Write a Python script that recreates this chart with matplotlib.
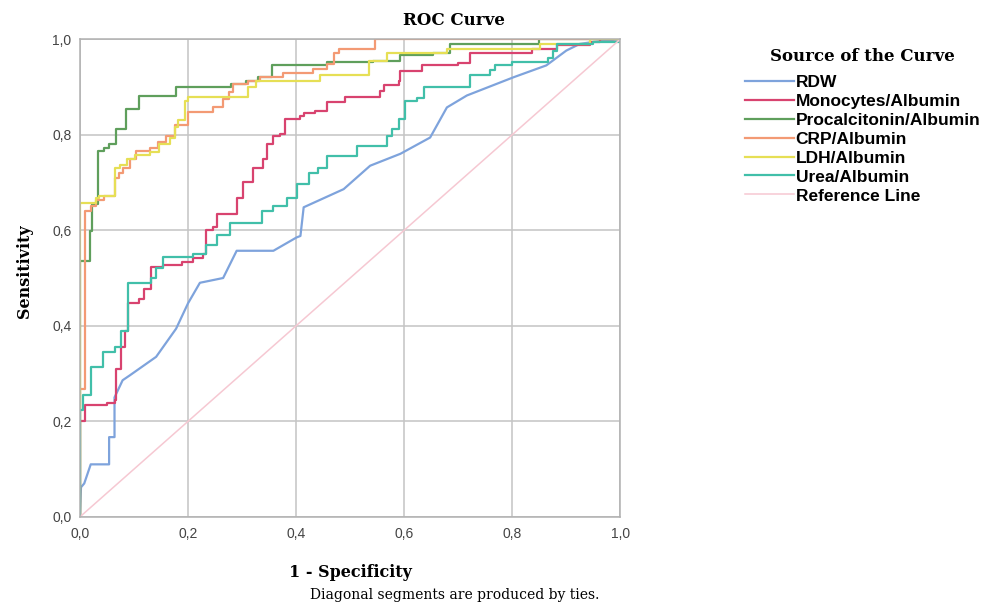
import matplotlib.pyplot as plt
import numpy as np

# ROC curve vertices (1 - specificity, sensitivity)
rdw_fpr = [0, 0.002, 0.008, 0.02, 0.054, 0.054, 0.064, 0.064, 0.079, 0.092, 0.141, 0.178, 0.2, 0.222,
           0.265, 0.29, 0.358, 0.401, 0.408, 0.414, 0.488, 0.537, 0.593, 0.648, 0.679, 0.716, 0.802,
           0.863, 0.9, 0.925, 0.95, 1.0]
rdw_tpr = [0, 0.062, 0.07, 0.11, 0.11, 0.167, 0.167, 0.25, 0.286, 0.296, 0.335, 0.394, 0.447, 0.49,
           0.5, 0.557, 0.557, 0.585, 0.588, 0.648, 0.686, 0.735, 0.76, 0.794, 0.857, 0.882, 0.92,
           0.945, 0.976, 0.99, 0.994, 1.0]

# step curves: x where each riser sits, y level after the riser
mono_fpr = [0, 0, 0.01, 0.05, 0.064, 0.067, 0.076, 0.083, 0.089, 0.11, 0.119, 0.132, 0.153, 0.188,
            0.209, 0.228, 0.234, 0.246, 0.253, 0.29, 0.302, 0.321, 0.339, 0.346, 0.358, 0.37, 0.38,
            0.407, 0.414, 0.435, 0.457, 0.491, 0.556, 0.562, 0.59, 0.593, 0.633, 0.70, 0.722, 0.836,
            0.882, 0.943, 0.962, 1.0]
mono_tpr = [0, 0.2, 0.234, 0.238, 0.244, 0.31, 0.356, 0.39, 0.447, 0.457, 0.478, 0.524, 0.527, 0.534,
            0.541, 0.55, 0.6, 0.606, 0.634, 0.668, 0.7, 0.73, 0.75, 0.78, 0.798, 0.802, 0.833,
            0.84, 0.845, 0.85, 0.868, 0.878, 0.892, 0.903, 0.913, 0.934, 0.945, 0.95, 0.97, 0.98,
            0.987, 0.994, 1.0, 1.0]

pct_fpr = [0, 0, 0.019, 0.022, 0.033, 0.045, 0.054, 0.066, 0.085, 0.11, 0.178, 0.28, 0.308, 0.33,
           0.355, 0.457, 0.543, 0.593, 0.654, 0.685, 0.85, 1.0]
pct_tpr = [0, 0.536, 0.599, 0.655, 0.766, 0.773, 0.78, 0.812, 0.854, 0.88, 0.90, 0.905, 0.913, 0.92,
           0.945, 0.952, 0.955, 0.966, 0.97, 0.99, 1.0, 1.0]

crp_fpr = [0, 0, 0.01, 0.02, 0.03, 0.045, 0.064, 0.072, 0.079, 0.092, 0.104, 0.129, 0.144, 0.16,
           0.175, 0.2, 0.246, 0.265, 0.275, 0.284, 0.311, 0.333, 0.376, 0.432, 0.457, 0.47, 0.479,
           0.546, 1.0]
crp_tpr = [0, 0.268, 0.64, 0.65, 0.664, 0.671, 0.71, 0.72, 0.73, 0.75, 0.766, 0.773, 0.784, 0.798,
           0.82, 0.847, 0.857, 0.875, 0.89, 0.906, 0.913, 0.92, 0.93, 0.938, 0.948, 0.97, 0.98,
           1.0, 1.0]

ldh_fpr = [0, 0, 0.03, 0.035, 0.064, 0.075, 0.088, 0.101, 0.13, 0.147, 0.166, 0.175, 0.181, 0.194,
           0.2, 0.311, 0.325, 0.445, 0.534, 0.568, 0.679, 0.851, 0.943, 1.0]
ldh_tpr = [0, 0.658, 0.668, 0.672, 0.73, 0.737, 0.75, 0.757, 0.764, 0.78, 0.794, 0.815, 0.83, 0.87,
           0.878, 0.9, 0.913, 0.924, 0.955, 0.97, 0.98, 0.99, 1.0, 1.0]

urea_fpr = [0, 0, 0.005, 0.02, 0.042, 0.064, 0.076, 0.089, 0.132, 0.141, 0.154, 0.209, 0.234, 0.253,
            0.277, 0.336, 0.358, 0.383, 0.401, 0.423, 0.44, 0.457, 0.513, 0.568, 0.577, 0.59, 0.602,
            0.623, 0.636, 0.722, 0.759, 0.768, 0.799, 0.866, 0.875, 0.882, 0.95, 1.0]
urea_tpr = [0, 0.223, 0.255, 0.314, 0.345, 0.356, 0.39, 0.49, 0.5, 0.52, 0.545, 0.55, 0.57, 0.59,
            0.616, 0.64, 0.65, 0.668, 0.697, 0.72, 0.73, 0.756, 0.777, 0.798, 0.812, 0.833, 0.87,
            0.877, 0.9, 0.924, 0.935, 0.945, 0.952, 0.96, 0.976, 0.99, 0.994, 1.0]

ticks = [0, 0.2, 0.4, 0.6, 0.8, 1.0]
tick_labels = [f'{t:.1f}'.replace('.', ',') for t in ticks]

serif = 'DejaVu Serif'
sans = 'Liberation Sans'

fig = plt.figure(figsize=(9.99, 6.11), dpi=100)
ax = fig.add_axes([0.080, 0.154, 0.541, 0.782])

lw = 1.6
ax.plot(rdw_fpr, rdw_tpr, color='#7ea3dc', lw=lw, label='RDW')
ax.plot(mono_fpr, mono_tpr, color='#d8436f', lw=lw, drawstyle='steps-post', label='Monocytes/Albumin')
ax.plot(pct_fpr, pct_tpr, color='#5f9f5c', lw=lw, drawstyle='steps-post', label='Procalcitonin/Albumin')
ax.plot(crp_fpr, crp_tpr, color='#f39a74', lw=lw, drawstyle='steps-post', label='CRP/Albumin')
ax.plot(ldh_fpr, ldh_tpr, color='#e6df55', lw=lw, drawstyle='steps-post', label='LDH/Albumin')
ax.plot(urea_fpr, urea_tpr, color='#41bfa9', lw=lw, drawstyle='steps-post', label='Urea/Albumin')
ax.plot([0, 1], [0, 1], color='#f6c8d2', lw=1.1, label='Reference Line')

ax.set_xlim(0, 1)
ax.set_ylim(0, 1)
ax.set_xticks(ticks)
ax.set_yticks(ticks)
ax.set_xticklabels(tick_labels, fontfamily=sans, fontsize=10, color='#444444')
ax.set_yticklabels(tick_labels, fontfamily=sans, fontsize=10, color='#444444')
ax.tick_params(length=0)
ax.tick_params(axis='x', pad=7)
ax.tick_params(axis='y', pad=6)
ax.grid(color='#c4c4c4', lw=1.1)
ax.set_axisbelow(True)
for s in ax.spines.values():
    s.set_color('#b0b0b0')
    s.set_linewidth(1.1)

ax.set_xlabel('1 - Specificity', fontfamily=serif, fontweight='bold', fontsize=11.5, labelpad=17)
ax.set_ylabel('Sensitivity', fontfamily=serif, fontweight='bold', fontsize=11.5)
ax.yaxis.set_label_coords(-0.087, 0.515)

fig.text(0.454, 0.966, 'ROC Curve', fontfamily=serif, fontweight='bold', fontsize=12,
         ha='center', va='center')
fig.text(0.455, 0.020, 'Diagonal segments are produced by ties.', fontfamily=serif,
         fontsize=10, ha='center')

fig.text(0.771, 0.907, 'Source of the Curve', fontfamily=serif, fontweight='bold', fontsize=12,
         ha='left', va='center')
ax.legend(loc='upper left', bbox_to_anchor=(0.746, 0.878), bbox_transform=fig.transFigure,
          frameon=False, prop={'family': sans, 'weight': 'bold', 'size': 12.5},
          handlelength=2.8, handletextpad=0.1, labelspacing=0.22, borderpad=0, borderaxespad=0)

fig.savefig('out.png', dpi=100)
